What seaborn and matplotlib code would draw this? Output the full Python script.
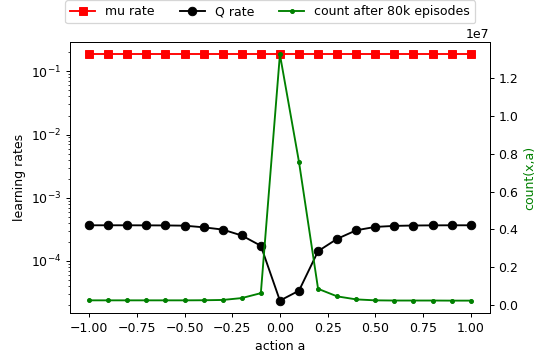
import numpy as np
import pandas as pd
import matplotlib
matplotlib.use("Agg")
import matplotlib.pyplot as plt
import seaborn as sns

# action grid
actions = [-1.0, -0.9, -0.8, -0.7, -0.6, -0.5, -0.4, -0.3, -0.2, -0.1, 0.0,
           0.1, 0.2, 0.3, 0.4, 0.5, 0.6, 0.7, 0.8, 0.9, 1.0]

# policy (mu) learning rate
mu_rate = [0.185] * 21

# critic (Q) learning rate
q_rate = [3.67e-4, 3.67e-4, 3.67e-4, 3.66e-4, 3.65e-4, 3.62e-4, 3.41e-4, 3.14e-4,
          2.53e-4, 1.74e-4, 2.36e-5, 3.39e-5, 1.43e-4, 2.24e-4, 3.06e-4, 3.46e-4,
          3.59e-4, 3.64e-4, 3.66e-4, 3.67e-4, 3.67e-4]

# visit counts after 80k episodes
counts = [2.5e5, 2.5e5, 2.5e5, 2.5e5, 2.5e5, 2.5e5, 2.55e5, 2.7e5, 3.7e5, 6.3e5,
          1.326e7, 7.57e6, 8.6e5, 4.6e5, 3.0e5, 2.5e5, 2.4e5, 2.4e5, 2.4e5,
          2.35e5, 2.35e5]

df = pd.DataFrame({"a": actions, "mu": mu_rate, "q": q_rate, "n": counts})

DPI = 90
fig = plt.figure(figsize=(543 / DPI, 354 / DPI), dpi=DPI)
ax = fig.add_axes([0.129, 0.116, 0.773, 0.765])
ax2 = ax.twinx()

sns.lineplot(data=df, x="a", y="mu", ax=ax, color="red", marker="s",
             markersize=6.8, markeredgecolor="red", label="mu rate", legend=False)
sns.lineplot(data=df, x="a", y="q", ax=ax, color="black", marker="o",
             markersize=6.8, markeredgecolor="black", label="Q rate", legend=False)
sns.lineplot(data=df, x="a", y="n", ax=ax2, color="green", marker="o",
             markersize=3.2, markeredgecolor="green",
             label="count after 80k episodes", legend=False)

ax.set_yscale("log")
ax.set_xlabel("action a")
ax.set_ylabel("learning rates")
ax2.set_ylabel("count(x,a)", color="green")

handles = ax.get_lines() + ax2.get_lines()
labels = [h.get_label() for h in handles]
ax.legend(handles, labels, ncol=3, loc="lower center",
          bbox_to_anchor=(0.477, 1.07), borderaxespad=0.0)

fig.savefig("out.png", dpi=DPI)
